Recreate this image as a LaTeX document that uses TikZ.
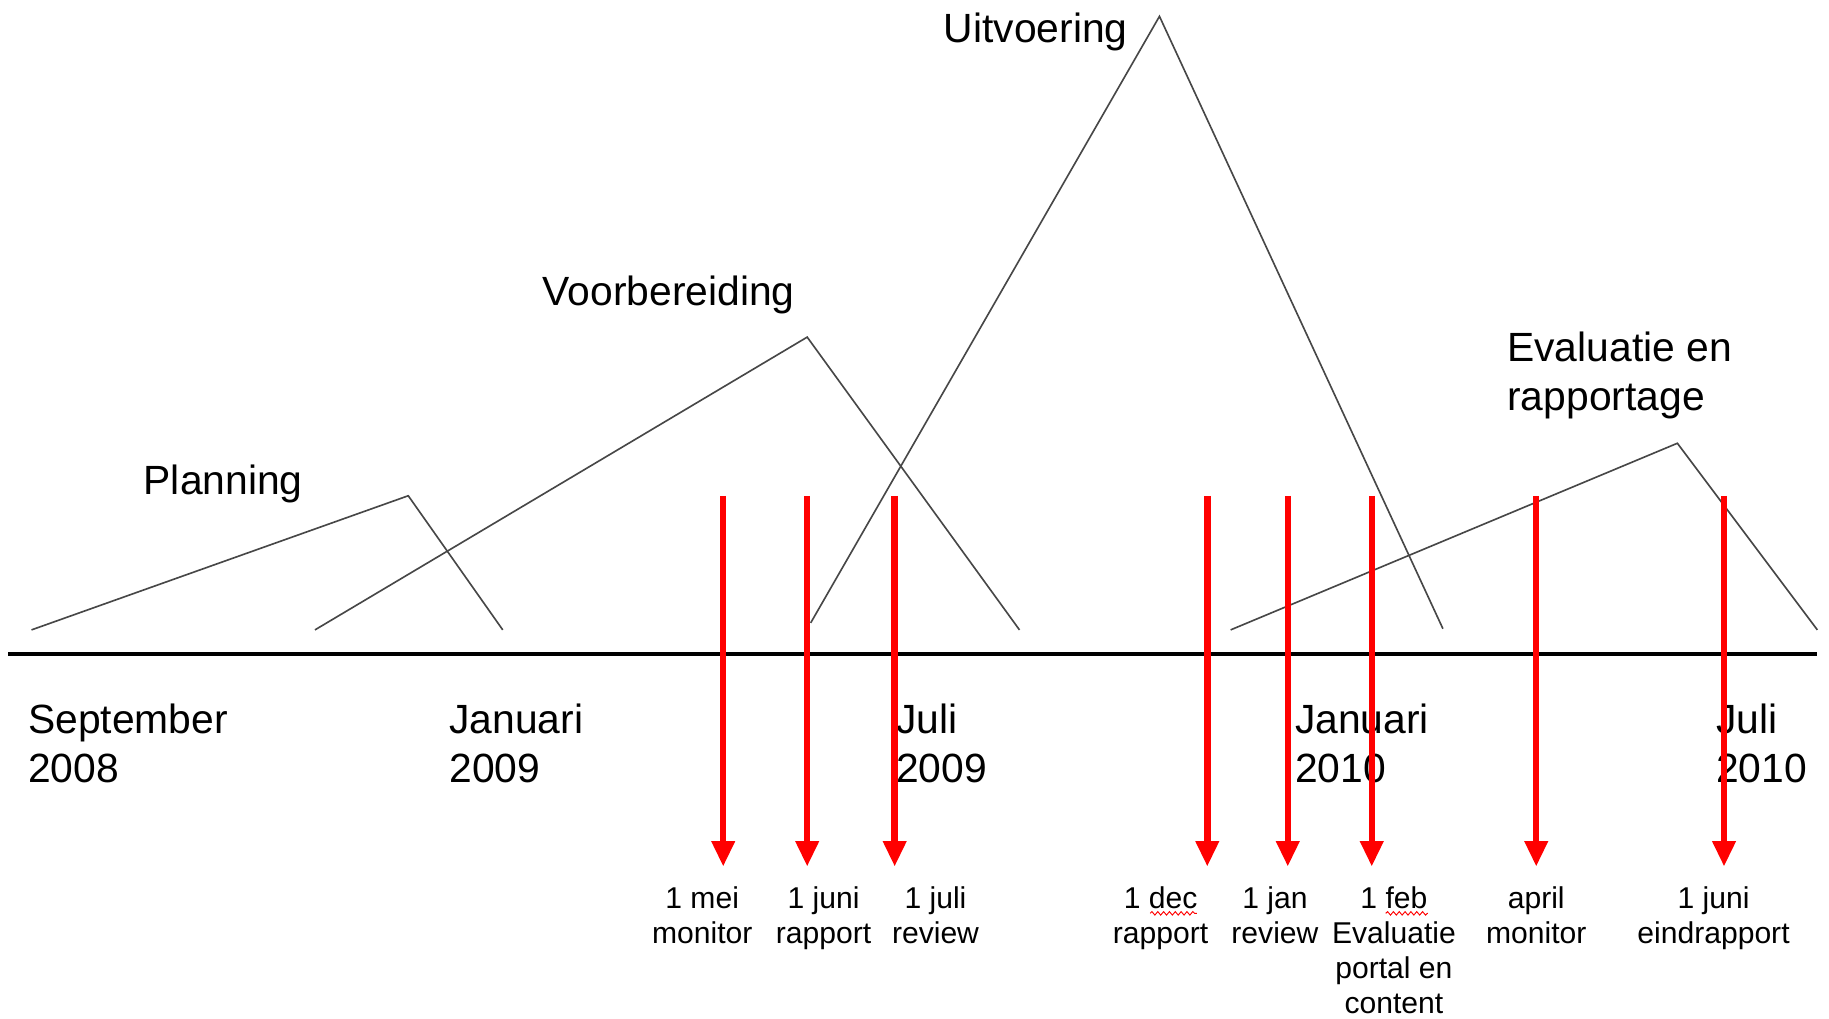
\documentclass[tikz,border=0pt]{standalone}
\usepackage{fontspec}
\setmainfont{Liberation Sans}
\usetikzlibrary{arrows.meta,decorations.pathmorphing}
\begin{document}
\begin{tikzpicture}[x=1pt,y=-1pt,
  phase/.style={draw=black!72, line width=1.4pt, line join=miter},
  axisline/.style={draw=black, line width=3.6pt},
  milestone/.style={draw=red, line width=5.5pt, -{Triangle[width=19pt,length=22pt]}},
  biglabel/.style={anchor=base west, inner sep=0pt, font=\fontsize{35}{42}\selectfont},
  datelabel/.style={anchor=base, inner sep=0pt, font=\fontsize{25.8}{30}\selectfont},
  spell/.style={draw=red, line width=0.8pt, decorate, decoration={snake, amplitude=1.5pt, segment length=5pt}}]
\useasboundingbox (0,0) rectangle (1568,873);

% phase triangles
\coordinate (pl1) at (27,540);  \coordinate (pl2) at (350,425);  \coordinate (pl3) at (431,540);
\coordinate (vb1) at (270,540); \coordinate (vb2) at (692,289);  \coordinate (vb3) at (874,540);
\coordinate (uv1) at (695,534); \coordinate (uv2) at (994,14);   \coordinate (uv3) at (1237,539);
\coordinate (ev1) at (1055,540);\coordinate (ev2) at (1438,380); \coordinate (ev3) at (1558,540);
\draw[phase] (pl1) -- (pl2) -- (pl3);
\draw[phase] (vb1) -- (vb2) -- (vb3);
\draw[phase] (uv1) -- (uv2) -- (uv3);
\draw[phase] (ev1) -- (ev2) -- (ev3);

% axis
\coordinate (axL) at (7,561); \coordinate (axR) at (1558,561);
\draw[axisline] (axL) -- (axR);

% phase labels
\node[biglabel] (tPlanning) at (123,424) {Planning};
\node[biglabel] (tVoor) at (465,262) {Voorbereiding};
\node[biglabel] (tUit) at (809,36.5) {Uitvoering};
\node[biglabel] (tEval) at (1292,310) {\begin{tabular}[t]{@{}l@{}}Evaluatie en\\rapportage\end{tabular}};

% date labels
\node[biglabel] (dSep) at (24,629) {\begin{tabular}[t]{@{}l@{}}September\\2008\end{tabular}};
\node[biglabel] (dJan9) at (385,629) {\begin{tabular}[t]{@{}l@{}}Januari\\2009\end{tabular}};
\node[biglabel] (dJul9) at (768,629) {\begin{tabular}[t]{@{}l@{}}Juli\\2009\end{tabular}};
\node[biglabel] (dJan10) at (1110,629) {\begin{tabular}[t]{@{}l@{}}Januari\\2010\end{tabular}};
\node[biglabel] (dJul10) at (1471,629) {\begin{tabular}[t]{@{}l@{}}Juli\\2010\end{tabular}};

% milestone labels
\node[datelabel] (m1) at (602,779) {\begin{tabular}[t]{@{}c@{}}1 mei\\monitor\end{tabular}};
\node[datelabel] (m2) at (706,779) {\begin{tabular}[t]{@{}c@{}}1 juni\\rapport\end{tabular}};
\node[datelabel] (m3) at (802,779) {\begin{tabular}[t]{@{}c@{}}1 juli\\review\end{tabular}};
\node[datelabel] (m4) at (995,779) {\begin{tabular}[t]{@{}c@{}}1 dec\\rapport\end{tabular}};
\node[datelabel] (m5) at (1093,779) {\begin{tabular}[t]{@{}c@{}}1 jan\\review\end{tabular}};
\node[datelabel] (m6) at (1195,779) {\begin{tabular}[t]{@{}c@{}}1 feb\\Evaluatie\\portal en\\content\end{tabular}};
\node[datelabel] (m7) at (1317,779) {\begin{tabular}[t]{@{}c@{}}april\\monitor\end{tabular}};
\node[datelabel] (m8) at (1469,779) {\begin{tabular}[t]{@{}c@{}}1 juni\\eindrapport\end{tabular}};

% spell-check marks
\coordinate (sd1) at (986,783); \coordinate (sd2) at (1026,783);
\coordinate (sf1) at (1188,783); \coordinate (sf2) at (1224,783);
\draw[spell] (sd1) -- (sd2);
\draw[spell] (sf1) -- (sf2);

% milestone arrows
\foreach \i/\x in {1/620,2/692,3/767,4/1035,5/1104,6/1176,7/1317,8/1478}{
  \coordinate (a\i top) at (\x,425);
  \coordinate (a\i tip) at (\x,743);
  \draw[milestone] (a\i top) -- (a\i tip);
}
\end{tikzpicture}
\end{document}
